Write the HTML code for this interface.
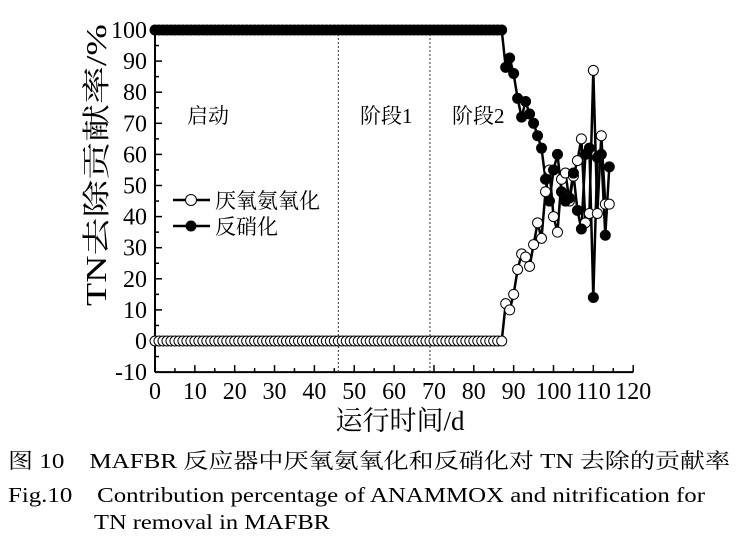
<!DOCTYPE html>
<html><head><meta charset="utf-8"><style>
body{margin:0;background:#fff;}
svg{display:block;font-family:"Liberation Serif","Noto Serif CJK SC",serif;}
</style></head><body>
<svg id="s" width="745" height="559" viewBox="0 0 745 559"></svg>
<script>
const s=document.getElementById('s');
const X=d=>155+d*3.985, Y=v=>341-v*3.11;
let h='';
h+=`<line x1="155" y1="${Y(100)}" x2="155" y2="${Y(-10)}" stroke="#000" stroke-width="2"/>`;
h+=`<line x1="155" y1="${Y(-10)}" x2="${X(120)}" y2="${Y(-10)}" stroke="#000" stroke-width="2"/>`;
for(let v=-10;v<=100;v+=5){const y=Y(v);const L=v%10==0?7:4;h+=`<line x1="155" y1="${y}" x2="${155+L}" y2="${y}" stroke="#000" stroke-width="1.5"/>`;
 if(v%10==0)h+=`<text x="147" y="${y+8}" font-size="24" text-anchor="end">${v}</text>`;}
for(let d=0;d<=120;d+=5){const x=X(d);const L=d%10==0?7:4;h+=`<line x1="${x}" y1="${Y(-10)}" x2="${x}" y2="${Y(-10)-L}" stroke="#000" stroke-width="1.5"/>`;
 if(d%10==0)h+=`<text x="${x}" y="399" font-size="24" text-anchor="middle">${d}</text>`;}
[46,69].forEach(d=>h+=`<line x1="${X(d)}" y1="${Y(100)}" x2="${X(d)}" y2="${Y(-10)}" stroke="#333" stroke-width="1" stroke-dasharray="2,2"/>`);
const F=[[88,88],[89,91],[90,86],[91,78],[92,72],[93,77],[94,73],[95,70],[96,66],[97,62],[98,52],[99,45],[100,55],[101,60],[102,48],[103,45],[104,46],[105,54],[106,42],[107,36],[108,60],[109,62],[110,14],[111,59],[112,60],[113,34],[114,56]];
const O=[[88,12],[89,10],[90,15],[91,23],[92,28],[93,27],[94,24],[95,31],[96,38],[97,33],[98,48],[99,55],[100,40],[101,35],[102,52],[103,54],[104,45],[105,53],[106,58],[107,65],[108,38],[109,41],[110,87],[111,41],[112,66],[113,44],[114,44]];
let fp=[],op=[];for(let d=0;d<=87;d++){fp.push([d,100]);op.push([d,0]);}
fp=fp.concat(F);op=op.concat(O);
const pl=a=>a.map(p=>X(p[0]).toFixed(1)+','+Y(p[1]).toFixed(1)).join(' ');
h+=`<polyline points="${pl(op)}" fill="none" stroke="#000" stroke-width="2.5"/>`;
h+=`<polyline points="${pl(fp)}" fill="none" stroke="#000" stroke-width="2.5"/>`;
op.forEach(p=>h+=`<circle cx="${X(p[0])}" cy="${Y(p[1])}" r="5" fill="#fff" stroke="#000" stroke-width="1"/>`);
fp.forEach(p=>h+=`<circle cx="${X(p[0])}" cy="${Y(p[1])}" r="5.5" fill="#000"/>`);
h+=`<line x1="173" y1="200" x2="210" y2="200" stroke="#000" stroke-width="2.5"/><circle cx="191" cy="200" r="5.5" fill="#fff" stroke="#000"/>`;
h+=`<text x="215" y="208" font-size="21">厌氧氨氧化</text>`;
h+=`<line x1="173" y1="226" x2="210" y2="226" stroke="#000" stroke-width="2.5"/><circle cx="191" cy="226" r="5.5" fill="#000"/>`;
h+=`<text x="215" y="234" font-size="21">反硝化</text>`;
h+=`<text x="187" y="123" font-size="21">启动</text><text x="360" y="123" font-size="21">阶段1</text><text x="452" y="123" font-size="21">阶段2</text>`;
h+=`<text transform="translate(106,165) rotate(-90)" font-size="28" text-anchor="middle" textLength="282" lengthAdjust="spacingAndGlyphs">TN去除贡献率/%</text>`;
h+=`<text x="400" y="430" font-size="27" text-anchor="middle">运行时间/d</text>`;
h+=`<text x="8" y="468" font-size="21" textLength="722" lengthAdjust="spacingAndGlyphs">图 10　MAFBR 反应器中厌氧氨氧化和反硝化对 TN 去除的贡献率</text>`;
h+=`<text x="8" y="502" font-size="21" textLength="697" lengthAdjust="spacingAndGlyphs">Fig.10　Contribution percentage of ANAMMOX and nitrification for</text>`;
h+=`<text x="94" y="529" font-size="21" textLength="236" lengthAdjust="spacingAndGlyphs">TN removal in MAFBR</text>`;
s.innerHTML=h;
</script>
</body></html>
